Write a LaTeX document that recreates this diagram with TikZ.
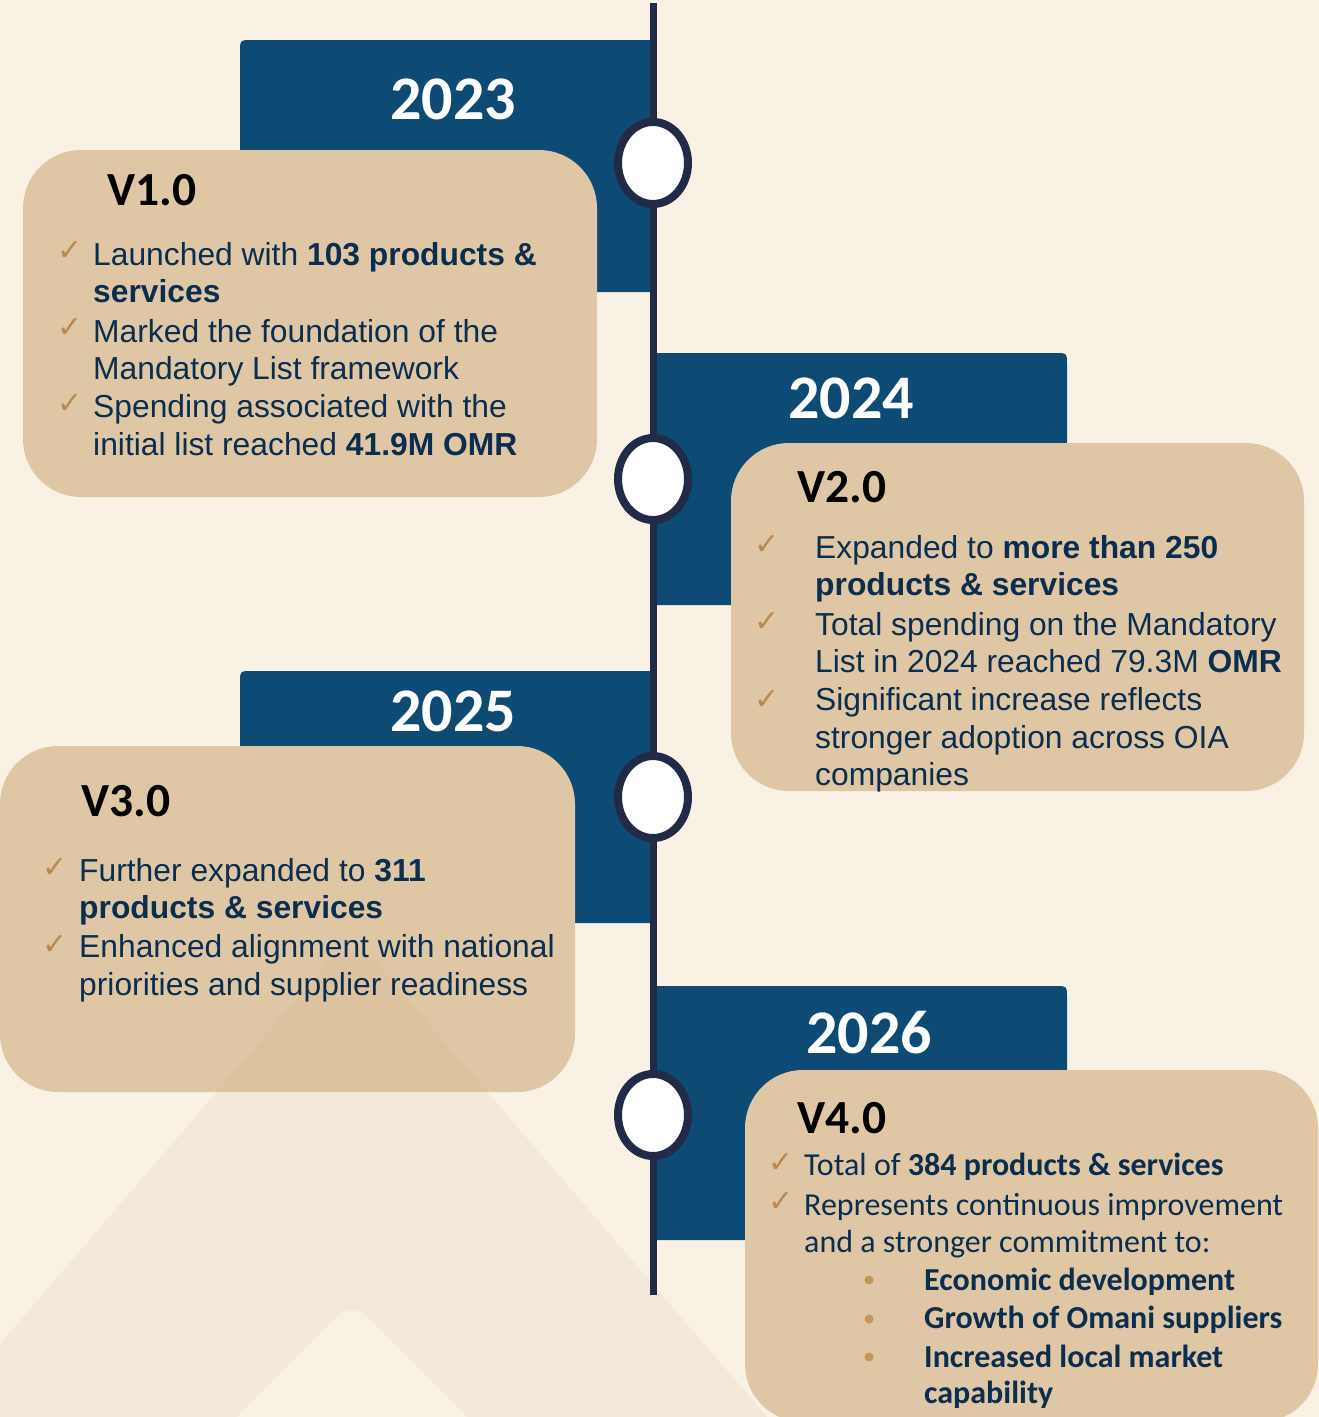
\documentclass[tikz,border=0pt]{standalone}
\usepackage{fontspec}
\setmainfont{Liberation Sans}
\newfontfamily\calfont{Carlito}
\newfontfamily\dejafont{DejaVu Sans}
\usetikzlibrary{shapes.geometric}
\definecolor{bgc}{HTML}{F9F1E4}
\definecolor{trishade}{RGB}{190,150,100}
\definecolor{tancard}{HTML}{DFC6A5}
\definecolor{blu}{HTML}{0D4A74}
\definecolor{navyline}{HTML}{212A47}
\definecolor{txt}{HTML}{0B2E4F}
\definecolor{gold}{HTML}{B98A4F}
\definecolor{bul}{HTML}{C4965A}
\tikzset{
  card/.style={fill=tancard, rounded corners=58pt, inner sep=0pt, outer sep=0pt, anchor=north west},
  yeartxt/.style={text=white, font=\calfont\bfseries\fontsize{62}{62}\selectfont, anchor=base west, inner sep=0pt},
  vertxt/.style={text=black, font=\calfont\bfseries\fontsize{47.5}{47.5}\selectfont, anchor=base west, inner sep=0pt},
  body/.style={text=txt, font=\fontsize{31.8}{38}\selectfont, anchor=base west, inner sep=0pt},
  cbody/.style={text=txt, font=\calfont\fontsize{32}{38}\selectfont, anchor=base west, inner sep=0pt},
  chk/.style={text=gold, font=\dejafont\fontsize{30}{30}\selectfont, anchor=base west, inner sep=0pt},
  milestone/.style={ellipse, draw=navyline, line width=8pt, fill=white, minimum width=70pt, minimum height=82pt, inner sep=0pt},
  bulletdot/.style={circle, fill=bul, minimum size=9pt, inner sep=0pt},
  yearband/.style={fill=blu}
}
\begin{document}
\begin{tikzpicture}[x=1pt,y=-1pt]
\useasboundingbox (0,0) rectangle (1319,1417);
\fill[bgc] (0,0) rectangle (1319,1417);

% blue year bands
\fill[yearband] (240,292) -- (240,52) .. controls (240,40) .. (252,40) -- (653,40) -- (653,292) -- cycle;
\fill[yearband] (653,605) -- (653,353) -- (1055,353) .. controls (1067,353) .. (1067,365) -- (1067,605) -- cycle;
\fill[yearband] (240,923) -- (240,683) .. controls (240,671) .. (252,671) -- (653,671) -- (653,923) -- cycle;
\fill[yearband] (653,1240) -- (653,986) -- (1055,986) .. controls (1067,986) .. (1067,998) -- (1067,1240) -- cycle;

% cards
\node[card, minimum width=574pt, minimum height=347pt] (card1) at (23,150) {};
\node[card, minimum width=573pt, minimum height=348pt] (card2) at (731,443) {};
\node[card, minimum width=575pt, minimum height=346pt] (card3) at (0,746) {};
\node[card, minimum width=573pt, minimum height=352pt] (card4) at (745,1070) {};

% background triangle shade (with lighter inner cut-out)
\fill[trishade, fill opacity=0.08, even odd rule]
  (-70,1425) [rounded corners=40pt] -- (352,935) [sharp corners] -- (774,1425) -- cycle
  (214,1440) [rounded corners=20pt] -- (352,1302) [sharp corners] -- (490,1440) -- cycle;

% timeline
\coordinate (ltop) at (653,3);
\coordinate (lbot) at (653,1295);
\draw[navyline, line width=7pt] (ltop) -- (lbot);

\node[milestone] (m1) at (653,163) {};
\node[milestone] (m2) at (653,479) {};
\node[milestone] (m3) at (653,797) {};
\node[milestone] (m4) at (653,1115) {};

% years
\node[yeartxt] (y1) at (390,119) {2023};
\node[yeartxt] (y2) at (788,418) {2024};
\node[yeartxt] (y3) at (390,731) {2025};
\node[yeartxt] (y4) at (806,1053) {2026};

% versions
\node[vertxt] (v1) at (107,205) {V1.0};
\node[vertxt] (v2) at (797,502) {V2.0};
\node[vertxt] (v3) at (81,816) {V3.0};
\node[vertxt] (v4) at (797,1133) {V4.0};

% V1 body
\node[chk] (k11) at (57,260) {✓};
\node[body] (t11) at (93,265) {Launched with \textbf{103 products \&}};
\node[body] (t12) at (93,302) {\textbf{services}};
\node[chk] (k12) at (57,337) {✓};
\node[body] (t13) at (93,342) {Marked the foundation of the};
\node[body] (t14) at (93,379) {Mandatory List framework};
\node[chk] (k13) at (57,413) {✓};
\node[body] (t15) at (93,417) {Spending associated with the};
\node[body] (t16) at (93,455) {initial list reached \textbf{41.9M OMR}};

% V2 body
\node[chk] (k21) at (754,554) {✓};
\node[body] (t21) at (815,558) {Expanded to \textbf{more than 250}};
\node[body] (t22) at (815,595) {\textbf{products \& services}};
\node[chk] (k22) at (754,631) {✓};
\node[body] (t23) at (815,635) {Total spending on the Mandatory};
\node[body] (t24) at (815,672) {List in 2024 reached 79.3M \textbf{OMR}};
\node[chk] (k23) at (754,709) {✓};
\node[body] (t25) at (815,710) {Significant increase reflects};
\node[body] (t26) at (815,748) {stronger adoption across OIA};
\node[body] (t27) at (815,785) {companies};

% V3 body
\node[chk] (k31) at (42,877) {✓};
\node[body] (t31) at (79,881) {Further expanded to \textbf{311}};
\node[body] (t32) at (79,918) {\textbf{products \& services}};
\node[chk] (k32) at (42,954) {✓};
\node[body] (t33) at (79,957) {Enhanced alignment with national};
\node[body] (t34) at (79,995) {priorities and supplier readiness};

% V4 body
\node[chk] (k41) at (768,1172) {✓};
\node[cbody] (t41) at (804,1175) {Total of \textbf{384 products \& services}};
\node[chk] (k42) at (768,1211) {✓};
\node[cbody] (t42) at (804,1215) {Represents continuous improvement};
\node[cbody] (t43) at (804,1252) {and a stronger commitment to:};
\node[bulletdot] (b1) at (869,1280) {};
\node[bulletdot] (b2) at (869,1319) {};
\node[bulletdot] (b3) at (869,1357) {};
\node[cbody] (t44) at (924,1290) {\textbf{Economic development}};
\node[cbody] (t45) at (924,1328) {\textbf{Growth of Omani suppliers}};
\node[cbody] (t46) at (924,1367) {\textbf{Increased local market}};
\node[cbody] (t47) at (924,1403) {\textbf{capability}};
\end{tikzpicture}
\end{document}
